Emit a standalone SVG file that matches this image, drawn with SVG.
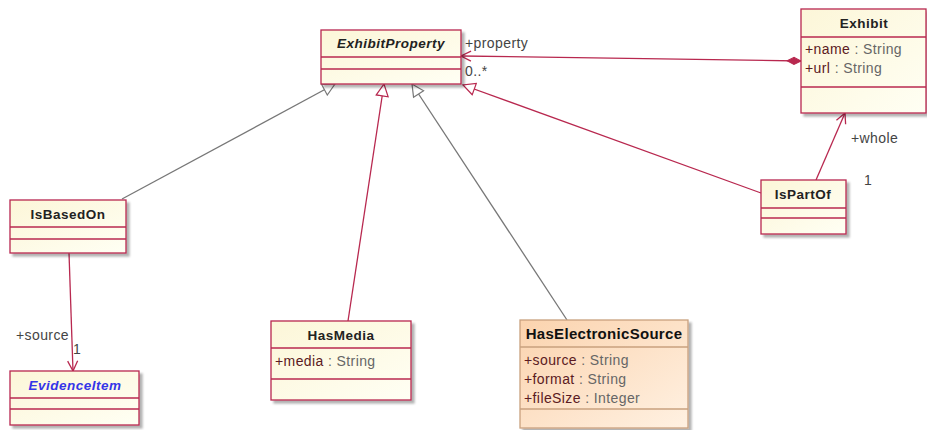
<svg xmlns="http://www.w3.org/2000/svg" width="927" height="430" viewBox="0 0 927 430">
<defs>
<linearGradient id="gY" x1="0" y1="0" x2="1" y2="1">
<stop offset="0" stop-color="#FCF6D8"/><stop offset="1" stop-color="#FFFFF4"/>
</linearGradient>
<linearGradient id="gO" x1="0" y1="0" x2="1" y2="1">
<stop offset="0" stop-color="#FBD3AE"/><stop offset="1" stop-color="#FFF1E2"/>
</linearGradient>
<filter id="sh" x="-10%" y="-10%" width="130%" height="130%">
<feDropShadow dx="3" dy="3" stdDeviation="1" flood-color="#000" flood-opacity="0.3"/>
</filter>
<marker id="open" viewBox="0 0 12 12" refX="11" refY="6" markerWidth="12" markerHeight="12" markerUnits="userSpaceOnUse" orient="auto">
<path d="M1,1 L11,6 L1,11" fill="none" stroke="#B8284F" stroke-width="1.3"/>
</marker>
<marker id="genR" viewBox="0 0 14 14" refX="13" refY="7" markerWidth="14" markerHeight="14" markerUnits="userSpaceOnUse" orient="auto">
<path d="M1,1 L13,7 L1,13 Z" fill="#fff" stroke="#B8284F" stroke-width="1.2"/>
</marker>
<marker id="genG" viewBox="0 0 14 14" refX="13" refY="7" markerWidth="14" markerHeight="14" markerUnits="userSpaceOnUse" orient="auto">
<path d="M1,1 L13,7 L1,13 Z" fill="#fff" stroke="#777" stroke-width="1.2"/>
</marker>
<marker id="dia" viewBox="0 0 16 10" refX="1" refY="5" markerWidth="16" markerHeight="10" markerUnits="userSpaceOnUse" orient="auto">
<path d="M1,5 L8,1.5 L15,5 L8,8.5 Z" fill="#B8284F" stroke="#B8284F" stroke-width="1"/>
</marker>
</defs>
<style>
.box{fill:url(#gY);stroke:#B8284F;stroke-width:1.3;filter:url(#sh)}
.boxo{fill:url(#gO);stroke:#C9A07E;stroke-width:1.3;filter:url(#sh)}
.sep{stroke:#B8284F;stroke-width:1.3}
.sepo{stroke:#C9A07E;stroke-width:1.3}
.hd{font-family:"Liberation Sans",Arial,sans-serif;font-size:13.5px;letter-spacing:0.5px;font-weight:bold;fill:#222;text-anchor:middle}
.at{font-family:"Liberation Sans",Arial,sans-serif;font-size:14px;letter-spacing:0.4px;fill:#666}
.an{fill:#5B1A22}
.lb{font-family:"Liberation Sans",Arial,sans-serif;font-size:14px;letter-spacing:0.4px;fill:#444}
.cr{stroke:#B8284F;stroke-width:1.3;fill:none}
.gr{stroke:#777;stroke-width:1.3;fill:none}
</style>
<g id="connectors">
<line class="gr" x1="122" y1="199" x2="335" y2="84" marker-end="url(#genG)"/>
<line class="cr" x1="348" y1="321" x2="384" y2="84" marker-end="url(#genR)"/>
<line class="gr" x1="567" y1="320" x2="412" y2="84" marker-end="url(#genG)"/>
<line class="cr" x1="761" y1="193" x2="463" y2="85" marker-end="url(#genR)"/>
<line class="cr" x1="801" y1="61" x2="461" y2="56" marker-start="url(#dia)" marker-end="url(#open)"/>
<line class="cr" x1="816" y1="180" x2="845" y2="113" marker-end="url(#open)"/>
<line class="cr" x1="69" y1="253" x2="73" y2="371" marker-end="url(#open)"/>
<text class="lb" x="465" y="48">+property</text>
<text class="lb" x="465" y="76">0..*</text>
<text class="lb" x="851" y="143">+whole</text>
<text class="lb" x="864" y="185">1</text>
<text class="lb" x="16" y="340">+source</text>
<text class="lb" x="73" y="354">1</text>
</g>
<g id="ExhibitProperty">
<rect class="box" x="321" y="30" width="140" height="54"/>
<line class="sep" x1="321" y1="57" x2="461" y2="57"/>
<line class="sep" x1="321" y1="69" x2="461" y2="69"/>
<text class="hd" x="391" y="48" font-style="italic">ExhibitProperty</text>
</g>
<g id="Exhibit">
<rect class="box" x="801" y="9" width="125" height="104"/>
<line class="sep" x1="801" y1="37" x2="926" y2="37"/>
<line class="sep" x1="801" y1="87" x2="926" y2="87"/>
<text class="hd" x="864" y="28">Exhibit</text>
<text class="at" x="805" y="54"><tspan class="an">+name</tspan> : String</text>
<text class="at" x="805" y="73"><tspan class="an">+url</tspan> : String</text>
</g>
<g id="IsBasedOn">
<rect class="box" x="10" y="200" width="116" height="53"/>
<line class="sep" x1="10" y1="227" x2="126" y2="227"/>
<line class="sep" x1="10" y1="239" x2="126" y2="239"/>
<text class="hd" x="68" y="219">IsBasedOn</text>
</g>
<g id="EvidenceItem">
<rect class="box" x="10" y="371" width="129" height="54"/>
<line class="sep" x1="10" y1="398" x2="139" y2="398"/>
<line class="sep" x1="10" y1="409" x2="139" y2="409"/>
<text class="hd" x="75" y="390" font-style="italic" style="fill:#3535E8">EvidenceItem</text>
</g>
<g id="HasMedia">
<rect class="box" x="271" y="321" width="140" height="79"/>
<line class="sep" x1="271" y1="348" x2="411" y2="348"/>
<line class="sep" x1="271" y1="379" x2="411" y2="379"/>
<text class="hd" x="341" y="340">HasMedia</text>
<text class="at" x="275" y="366"><tspan class="an">+media</tspan> : String</text>
</g>
<g id="HasElectronicSource">
<rect class="boxo" x="520" y="320" width="168" height="108"/>
<line class="sepo" x1="520" y1="347" x2="688" y2="347"/>
<line class="sepo" x1="520" y1="409" x2="688" y2="409"/>
<text class="hd" x="604" y="339" style="font-size:15px;letter-spacing:0.3px;fill:#111">HasElectronicSource</text>
<text class="at" x="524" y="365"><tspan class="an">+source</tspan> : String</text>
<text class="at" x="524" y="384"><tspan class="an">+format</tspan> : String</text>
<text class="at" x="524" y="403"><tspan class="an">+fileSize</tspan> : Integer</text>
</g>
<g id="IsPartOf">
<rect class="box" x="761" y="180" width="85" height="54"/>
<line class="sep" x1="761" y1="208" x2="846" y2="208"/>
<line class="sep" x1="761" y1="218" x2="846" y2="218"/>
<text class="hd" x="803" y="199">IsPartOf</text>
</g>
</svg>
